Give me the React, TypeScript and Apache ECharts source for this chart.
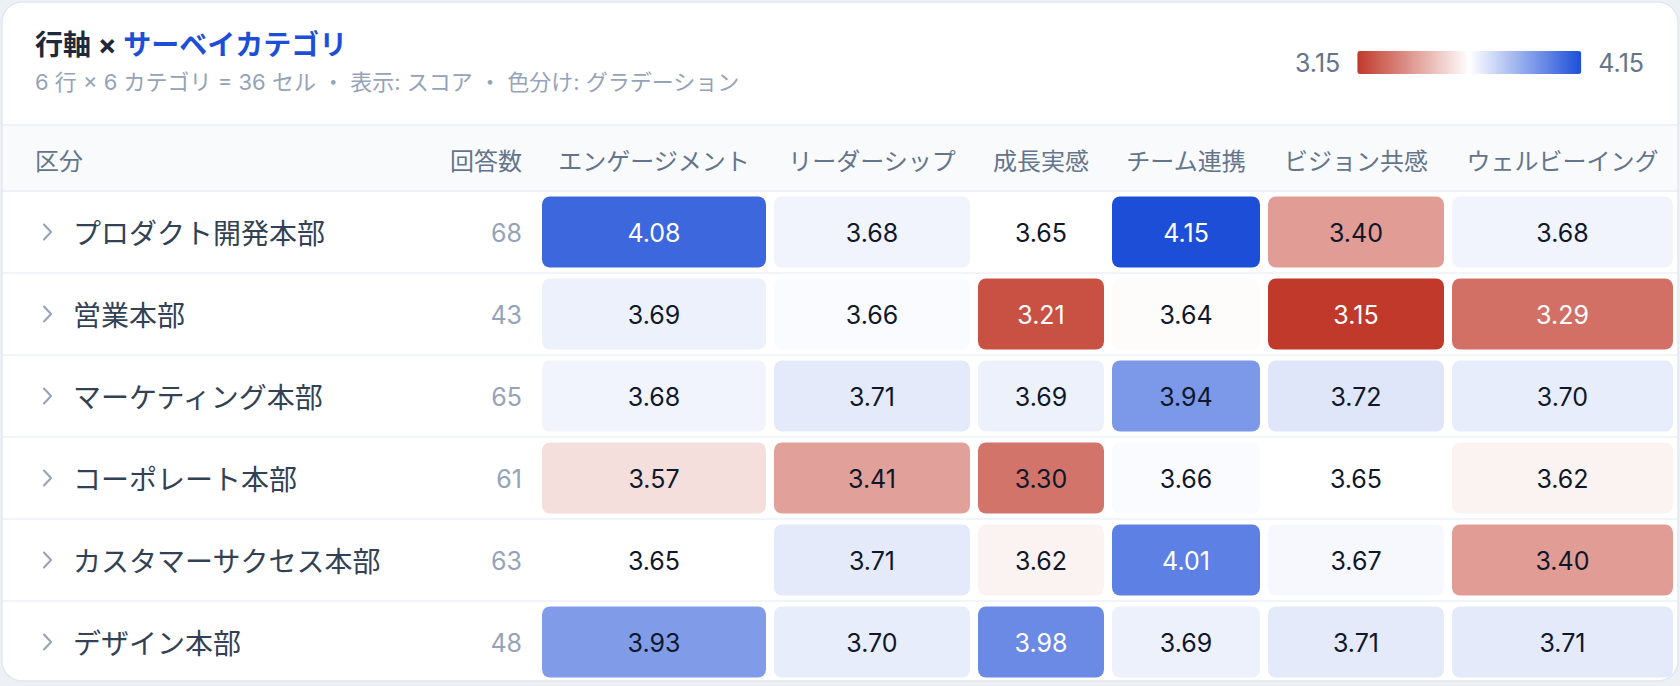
import React, { useEffect, useRef } from "react";
import * as echarts from "echarts";

// ---------- data ----------
const ROWS = [
  "プロダクト開発本部",
  "営業本部",
  "マーケティング本部",
  "コーポレート本部",
  "カスタマーサクセス本部",
  "デザイン本部",
];
const RESPONSES = [68, 43, 65, 61, 63, 48];
const CATEGORIES = [
  "エンゲージメント",
  "リーダーシップ",
  "成長実感",
  "チーム連携",
  "ビジョン共感",
  "ウェルビーイング",
];
const SCORES = [
  [4.08, 3.68, 3.65, 4.15, 3.4, 3.68],
  [3.69, 3.66, 3.21, 3.64, 3.15, 3.29],
  [3.68, 3.71, 3.69, 3.94, 3.72, 3.7],
  [3.57, 3.41, 3.3, 3.66, 3.65, 3.62],
  [3.65, 3.71, 3.62, 4.01, 3.67, 3.4],
  [3.93, 3.7, 3.98, 3.69, 3.71, 3.71],
];
const SCALE_MIN = 3.15;
const SCALE_MAX = 4.15;
const SCALE_LABELS = ["4.15", "3.15"];
const HEADER_LABEL = "区分";
const HEADER_COUNT = "回答数";
const TITLE_PREFIX = "行軸 ×";
const TITLE_AXIS = "サーベイカテゴリ";
const SUBTITLE = `${ROWS.length} 行 × ${CATEGORIES.length} カテゴリ = ${
  ROWS.length * CATEGORIES.length
} セル ・ 表示: スコア ・ 色分け: グラデーション`;

// ---------- layout / style ----------
const W = 1680;
const H = 686;
const LABEL_X = 35;
const CHEVRON_X = 44;
const NAME_X = 73;
const COUNT_RIGHT = 522;
const TABLE_LEFT = 538;
const COL_WIDTHS = [232, 204, 134, 156, 184, 229];
const COL_STARTS = COL_WIDTHS.reduce<number[]>((acc, w, i) => {
  acc.push(i === 0 ? TABLE_LEFT : acc[i - 1] + COL_WIDTHS[i - 1]);
  return acc;
}, []);
const CELL_PAD_X = 4;
const CELL_PAD_Y = 5.5;
const GRID_TOP = 191;
const ROW_H = 82;
const HEADER_TOP = 125;
const CARD_RIGHT = 1677;

const CJK = "'Noto Sans CJK JP', 'Noto Sans', sans-serif";
const MIXED = "Inter, 'Noto Sans CJK JP', sans-serif";
const NUM = "Inter, 'Noto Sans', sans-serif";

const C_RED = "#c0392b";
const C_MID = "#ffffff";
const C_BLUE = "#1d4ed8";

export default function App() {
  const ref = useRef<HTMLDivElement>(null);

  useEffect(() => {
    document.body.style.margin = "0";
    const chart = echarts.init(ref.current!, undefined, { renderer: "svg" });

    const cellData = SCORES.flatMap((row, r) =>
      row.map((v, c) => [COL_STARTS[c] + COL_WIDTHS[c] / 2, r, v, c])
    );
    const rowData = ROWS.map((_, r) => [NAME_X, r, RESPONSES[r]]);
    const headers = [HEADER_LABEL, HEADER_COUNT, ...CATEGORIES];
    const headerX = [
      LABEL_X,
      COUNT_RIGHT,
      ...CATEGORIES.map((_, c) => COL_STARTS[c] + COL_WIDTHS[c] / 2),
    ];
    const headerData = headers.map((_, i) => [headerX[i], 0, i]);

    const option: any = {
      animation: false,
      backgroundColor: "#edf1f6",
      title: [
        {
          text: `{a|${TITLE_PREFIX}} {b|${TITLE_AXIS}}`,
          left: LABEL_X,
          top: 28,
          padding: 0,
          textStyle: {
            fontSize: 28,
            fontWeight: 700,
            fontFamily: MIXED,
            color: "#1e293b",
            rich: {
              a: { fontSize: 28, fontWeight: 700, fontFamily: MIXED, color: "#1e293b", lineHeight: 34 },
              b: { fontSize: 28, fontWeight: 700, fontFamily: MIXED, color: "#1d4ed8", lineHeight: 34 },
            },
          },
        },
        {
          text: SUBTITLE,
          left: LABEL_X,
          top: 68,
          padding: 0,
          textStyle: {
            fontSize: 22,
            fontWeight: 400,
            fontFamily: MIXED,
            color: "#94a3b8",
            lineHeight: 28,
          },
        },
      ],
      visualMap: {
        type: "continuous",
        min: SCALE_MIN,
        max: SCALE_MAX,
        orient: "horizontal",
        right: 36,
        top: 50,
        padding: 0,
        itemWidth: 23,
        itemHeight: 224,
        text: SCALE_LABELS,
        textGap: 17,
        calculable: false,
        hoverLink: false,
        seriesIndex: 0,
        dimension: 2,
        inRange: { color: [C_RED, C_MID, C_BLUE] },
        textStyle: { color: "#64748b", fontSize: 25, fontFamily: NUM },
      },
      grid: { left: 0, top: GRID_TOP, width: W, height: ROW_H * ROWS.length },
      xAxis: { type: "value", min: 0, max: W, show: false },
      yAxis: { type: "category", data: ROWS, inverse: true, show: false },
      graphic: [
        {
          type: "rect",
          z: -10,
          shape: { x: 2, y: 2, width: W - 4, height: 679, r: 20 },
          style: { fill: "#ffffff", stroke: "#e2e8f0", lineWidth: 1.5 },
        },
        {
          type: "rect",
          z: -9,
          shape: { x: 3, y: HEADER_TOP, width: CARD_RIGHT - 3, height: GRID_TOP - HEADER_TOP },
          style: { fill: "#f8fafc" },
        },
        {
          type: "line",
          z: -8,
          shape: { x1: 3, y1: HEADER_TOP, x2: CARD_RIGHT, y2: HEADER_TOP },
          style: { stroke: "#eef2f6", lineWidth: 2 },
        },
        {
          type: "line",
          z: -8,
          shape: { x1: 3, y1: GRID_TOP, x2: CARD_RIGHT, y2: GRID_TOP },
          style: { stroke: "#eef2f6", lineWidth: 2 },
        },
      ],
      series: [
        {
          type: "custom",
          name: "scores",
          coordinateSystem: "cartesian2d",
          clip: false,
          encode: { x: 0, y: 1 },
          data: cellData,
          renderItem: (params: any, api: any) => {
            const c = api.value(3) as number;
            const r = api.value(1);
            const v = api.value(2) as number;
            const center = api.coord([api.value(0), r]);
            const left = api.coord([COL_STARTS[c], r])[0];
            const right = api.coord([COL_STARTS[c] + COL_WIDTHS[c], r])[0];
            const band = api.size([0, 1])[1];
            const h = band - CELL_PAD_Y * 2;
            const fill = api.visual("color") || "#ffffff";
            const rgb = echarts.color.parse(fill) || [255, 255, 255, 1];
            const yiq = (rgb[0] * 299 + rgb[1] * 587 + rgb[2] * 114) / 1000;
            const textColor = yiq < 142 ? "#ffffff" : "#0f172a";
            return {
              type: "group",
              children: [
                {
                  type: "rect",
                  shape: {
                    x: left + CELL_PAD_X,
                    y: center[1] - h / 2,
                    width: right - left - CELL_PAD_X * 2,
                    height: h,
                    r: 8,
                  },
                  style: { fill },
                },
                {
                  type: "text",
                  style: {
                    text: v.toFixed(2),
                    x: center[0],
                    y: center[1] + 1,
                    align: "center",
                    verticalAlign: "middle",
                    fill: textColor,
                    fontSize: 25,
                    fontFamily: NUM,
                    fontWeight: 400,
                  },
                },
              ],
            };
          },
        },
        {
          type: "custom",
          name: "rows",
          coordinateSystem: "cartesian2d",
          clip: false,
          encode: { x: 0, y: 1 },
          data: rowData,
          z: 1,
          renderItem: (params: any, api: any) => {
            const r = api.value(1) as number;
            const count = api.value(2);
            const p = api.coord([api.value(0), r]);
            const yc = p[1];
            const band = api.size([0, 1])[1];
            const chevX = api.coord([CHEVRON_X, r])[0];
            const countX = api.coord([COUNT_RIGHT, r])[0];
            const x0 = api.coord([3, r])[0];
            const x1 = api.coord([CARD_RIGHT, r])[0];
            const children: any[] = [];
            if (r < ROWS.length - 1) {
              children.push({
                type: "line",
                shape: { x1: x0, y1: yc + band / 2, x2: x1, y2: yc + band / 2 },
                style: { stroke: "#f1f5f9", lineWidth: 2 },
              });
            }
            children.push(
              {
                type: "polyline",
                shape: {
                  points: [
                    [chevX, yc - 7.5],
                    [chevX + 7, yc],
                    [chevX, yc + 7.5],
                  ],
                },
                style: { stroke: "#94a3b8", lineWidth: 2, fill: "none", lineCap: "round", lineJoin: "round" },
              },
              {
                type: "text",
                style: {
                  text: ROWS[r],
                  x: p[0],
                  y: yc,
                  align: "left",
                  verticalAlign: "middle",
                  fill: "#334155",
                  fontSize: 28,
                  fontFamily: CJK,
                },
              },
              {
                type: "text",
                style: {
                  text: String(count),
                  x: countX,
                  y: yc + 1,
                  align: "right",
                  verticalAlign: "middle",
                  fill: "#94a3b8",
                  fontSize: 25,
                  fontFamily: NUM,
                },
              }
            );
            return { type: "group", children };
          },
        },
        {
          type: "custom",
          name: "headers",
          coordinateSystem: "cartesian2d",
          clip: false,
          encode: { x: 0, y: 1 },
          data: headerData,
          renderItem: (params: any, api: any) => {
            const i = api.value(2) as number;
            const p = api.coord([api.value(0), 0]);
            const band = api.size([0, 1])[1];
            const top = p[1] - band / 2;
            return {
              type: "text",
              style: {
                text: headers[i],
                x: p[0],
                y: top - (GRID_TOP - HEADER_TOP) / 2 + 1,
                align: i === 0 ? "left" : i === 1 ? "right" : "center",
                verticalAlign: "middle",
                fill: "#64748b",
                fontSize: 24,
                fontFamily: CJK,
              },
            };
          },
        },
      ],
    };

    chart.setOption(option);
    return () => chart.dispose();
  }, []);

  return <div ref={ref} style={{ width: W, height: H }} />;
}
